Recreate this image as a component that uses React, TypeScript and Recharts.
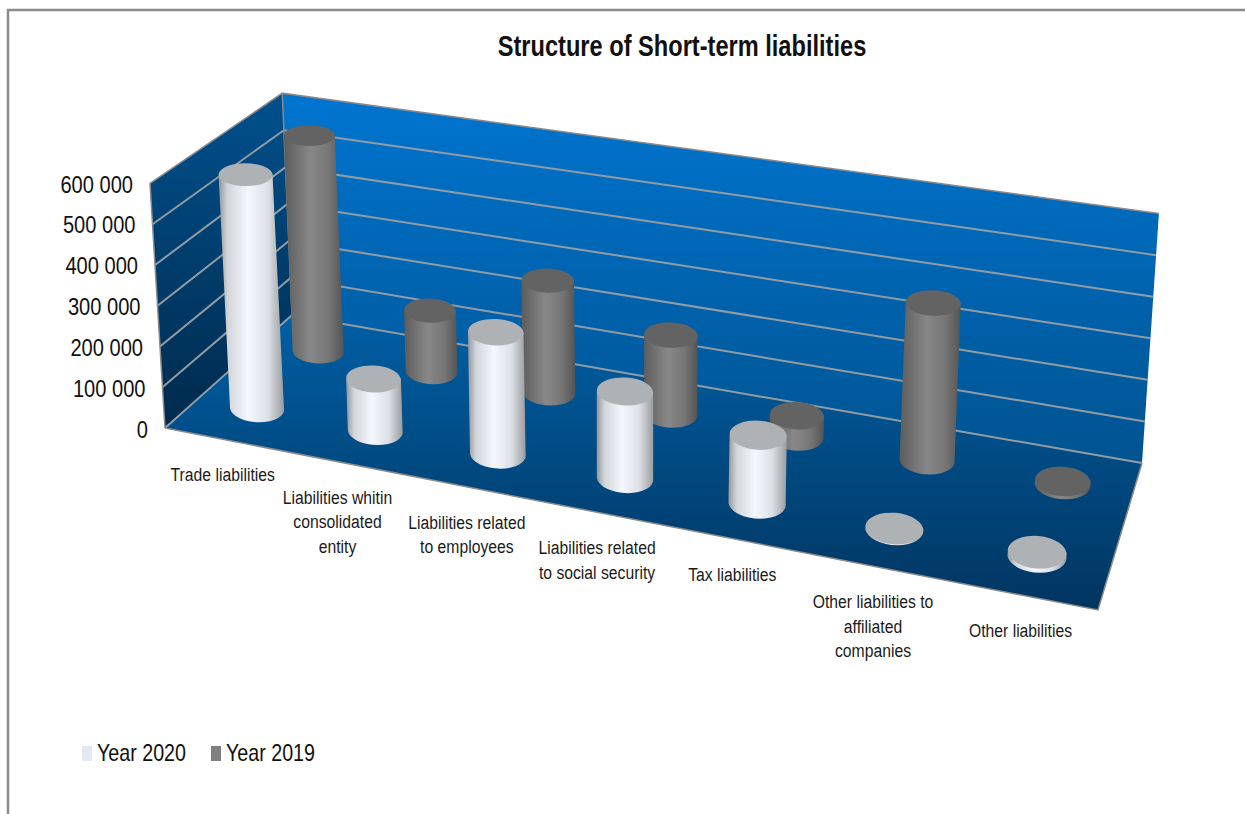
import React from 'react';
import { BarChart, Bar, XAxis, YAxis, Legend, Customized } from 'recharts';

const categories = [
  'Trade liabilities',
  'Liabilities whitin\nconsolidated\nentity',
  'Liabilities related\nto employees',
  'Liabilities related\nto social security',
  'Tax liabilities',
  'Other liabilities to\naffiliated\ncompanies',
  'Other liabilities',
];
const year2020 = [582000, 127000, 293000, 205000, 158000, 1500, 9000];
const year2019 = [563000, 156000, 282000, 196000, 51000, 377000, 7000];
const yTicks = [0, 100000, 200000, 300000, 400000, 500000, 600000];

const tableData = categories.map((name, i) => ({ name, y2020: year2020[i], y2019: year2019[i] }));

// box corners of the fake 3D scene, on screen
const A = [165, 428]; // front left floor
const B = [1098, 610]; // front right floor
const C = [1142, 463]; // back right floor
const D = [292, 315]; // back left floor
const VANISH = [630, 8018]; // where the upright edges meet
const PLOT_LEFT = 165;
const PLOT_W = 933;
const PLOT_H = 245;
const DEPTH_2020 = 0.25;
const DEPTH_2019 = 0.75;

// the reference text is squeezed sideways, no narrow font is installed
const FONT = "'Liberation Sans', Arial, sans-serif";
const SQUEEZE = 0.82;

const homography = (() => {
  const [x0, y0] = A, [x1, y1] = B, [x2, y2] = C, [x3, y3] = D;
  const dx1 = x1 - x2, dx2 = x3 - x2, sx = x0 - x1 + x2 - x3;
  const dy1 = y1 - y2, dy2 = y3 - y2, sy = y0 - y1 + y2 - y3;
  const den = dx1 * dy2 - dx2 * dy1;
  const g = (sx * dy2 - dx2 * sy) / den;
  const h = (dx1 * sy - sx * dy1) / den;
  return {
    a: x1 - x0 + g * x1, b: x3 - x0 + h * x3, c: x0,
    d: y1 - y0 + g * y1, e: y3 - y0 + h * y3, f: y0, g, h,
  };
})();

const floorPoint = (u: number, v: number) => {
  const m = homography;
  const q = m.g * u + m.h * v + 1;
  return [(m.a * u + m.b * v + m.c) / q, (m.d * u + m.e * v + m.f) / q];
};

// on-screen length of the full axis height at a floor position
const fullHeight = (u: number, v: number) =>
  (1 - u) * (1 - v) * 245 + (1 - u) * v * 222 + u * (1 - v) * 275 + u * v * 250;

const project = (u: number, v: number, w: number) => {
  const p = floorPoint(u, v);
  const dx = p[0] - VANISH[0], dy = p[1] - VANISH[1];
  const len = Math.hypot(dx, dy);
  const l = fullHeight(u, v) * w;
  return [p[0] + (dx / len) * l, p[1] + (dy / len) * l];
};

const pts = (list: number[][]) => list.map((p) => p.join(',')).join(' ');

const Scene = () => {
  const E = project(0, 0, 1), F = project(0, 1, 1), G = project(1, 1, 1);
  return (
    <g>
      <defs>
        <linearGradient id="backWall" gradientUnits="userSpaceOnUse" x1="0" y1="93" x2="0" y2="463">
          <stop offset="0%" stopColor="#0075d0" />
          <stop offset="100%" stopColor="#005390" />
        </linearGradient>
        <linearGradient id="sideWall" gradientUnits="userSpaceOnUse" x1="0" y1="100" x2="0" y2="428">
          <stop offset="0%" stopColor="#00508c" />
          <stop offset="100%" stopColor="#002a4c" />
        </linearGradient>
        <linearGradient id="floor" gradientUnits="userSpaceOnUse" x1="0" y1="315" x2="0" y2="610">
          <stop offset="0%" stopColor="#005fa4" />
          <stop offset="100%" stopColor="#003560" />
        </linearGradient>
        <linearGradient id="bodyLight" x1="0" y1="0" x2="1" y2="0">
          <stop offset="0%" stopColor="#93979b" />
          <stop offset="14%" stopColor="#d2d6da" />
          <stop offset="45%" stopColor="#f4f8fe" />
          <stop offset="75%" stopColor="#dde1e6" />
          <stop offset="100%" stopColor="#989c9f" />
        </linearGradient>
        <linearGradient id="bodyDark" x1="0" y1="0" x2="1" y2="0">
          <stop offset="0%" stopColor="#5c5c5c" />
          <stop offset="45%" stopColor="#888888" />
          <stop offset="75%" stopColor="#767676" />
          <stop offset="100%" stopColor="#545454" />
        </linearGradient>
      </defs>

      <polyline points="8,814 8,10 1245,10" fill="none" stroke="#8c8c8c" strokeWidth={2.5} />
      <text
        transform={`translate(682 56) scale(0.814 1)`}
        textAnchor="middle"
        fontFamily={FONT}
        fontWeight="bold"
        fontSize={29}
        fill="#111"
      >
        Structure of Short-term liabilities
      </text>

      <polygon points={pts([A, E, F, D])} fill="url(#sideWall)" />
      <polygon points={pts([D, F, G, C])} fill="url(#backWall)" />
      <polygon points={pts([A, B, C, D])} fill="url(#floor)" />

      {yTicks.slice(0, -1).map((t) => {
        const w = t / yTicks[yTicks.length - 1];
        return (
          <polyline
            key={t}
            points={pts([project(0, 0, w), project(0, 1, w), project(1, 1, w)])}
            fill="none"
            stroke="#929ca4"
            strokeWidth={2}
          />
        );
      })}

      <polyline points={pts([D, F, G])} fill="none" stroke="#8a8a8a" strokeWidth={1.5} />
      <polyline points={pts([A, E, F])} fill="none" stroke="#8a8a8a" strokeWidth={1.5} />
      <polyline points={pts([A, B, C])} fill="none" stroke="#8a8a8a" strokeWidth={1.5} />
    </g>
  );
};

const makeCylinder = (depth: number, body: string, cap: string) => (props: any) => {
  const { x, width, height } = props;
  const u = (x + width / 2 - PLOT_LEFT) / PLOT_W;
  const base = floorPoint(u, depth);
  const top = project(u, depth, height / PLOT_H);
  const rx = 27.5 + 2.9 * u - 3 * depth;
  const ratio = (py: number) => 0.41 + 0.00034 * (py - 137);
  const tilt = (py: number) => 5 * Math.max(0, py - 137) / 413;
  const ryTop = rx * ratio(top[1]);
  const ryBase = rx * ratio(base[1]);
  const d = [
    `M${top[0] - rx},${top[1]}`,
    `L${base[0] - rx},${base[1]}`,
    `A${rx},${ryBase} ${tilt(base[1])} 0 0 ${base[0] + rx},${base[1]}`,
    `L${top[0] + rx},${top[1]}`,
    'Z',
  ].join(' ');
  return (
    <g>
      <path d={d} fill={`url(#${body})`} />
      <ellipse
        cx={top[0]}
        cy={top[1]}
        rx={rx}
        ry={ryTop}
        fill={cap}
        transform={`rotate(${tilt(top[1])} ${top[0]} ${top[1]})`}
      />
    </g>
  );
};

const Cylinder2020 = makeCylinder(DEPTH_2020, 'bodyLight', '#aeb2b5');
const Cylinder2019 = makeCylinder(DEPTH_2019, 'bodyDark', '#636363');

// Excel placed the labels by hand, they sit a bit left of the band centre
const labelShift = [-1, -7, -3, -3, -3, -3, -2];

const CategoryTick = (props: any) => {
  const { x, payload, index } = props;
  const p = floorPoint((x - PLOT_LEFT) / PLOT_W, 0);
  const lines = String(payload.value).split('\n');
  const lx = p[0] + labelShift[index];
  const ly = 428 + ((lx - PLOT_LEFT) * 182) / PLOT_W + 42;
  return (
    <g transform={`translate(${lx} 0) scale(${SQUEEZE} 1)`}>
      <text textAnchor="middle" fontFamily={FONT} fontSize={19.2} fill="#1a1a1a">
        {lines.map((line, i) => (
          <tspan key={i} x={0} y={ly + i * 24.5}>
            {line}
          </tspan>
        ))}
      </text>
    </g>
  );
};

const ValueTick = (props: any) => {
  const { y, payload } = props;
  const w = payload.value / yTicks[yTicks.length - 1];
  const edge = project(0, 0, w);
  const label = payload.value === 0 ? '0' : `${payload.value / 1000} 000`;
  return (
    <text
      transform={`translate(${edge[0] - 17} ${y + 9.5}) scale(${SQUEEZE} 1)`}
      textAnchor="end"
      fontFamily={FONT}
      fontSize={24.5}
      fill="#111"
    >
      {label}
    </text>
  );
};

const LegendBox = ({ payload }: any) => (
  <div style={{ display: 'flex', fontFamily: FONT, fontSize: 24, color: '#111', lineHeight: '30px' }}>
    {[...(payload || [])].reverse().map((item: any) => (
      <div key={item.value} style={{ display: 'flex', alignItems: 'center', width: 129 }}>
        <span style={{ width: 10, height: 15, background: item.color, marginRight: 5, flex: 'none' }} />
        <span style={{ display: 'inline-block', whiteSpace: 'nowrap', transform: `scaleX(${SQUEEZE})`, transformOrigin: 'left' }}>
          {item.value}
        </span>
      </div>
    ))}
  </div>
);

export default function App() {
  return (
    <div style={{ position: 'absolute', left: 0, top: 0, width: 1245, height: 814, background: '#fff' }}>
      <BarChart
        width={1245}
        height={814}
        data={tableData}
        margin={{ top: 183, right: 147, bottom: 356, left: 65 }}
        barSize={20}
        barGap={-20}
      >
        <Customized component={Scene} />
        <XAxis dataKey="name" height={30} interval={0} axisLine={false} tickLine={false} tick={CategoryTick} />
        <YAxis
          width={100}
          domain={[0, 600000]}
          ticks={yTicks}
          axisLine={false}
          tickLine={false}
          tick={ValueTick}
        />
        <Legend
          verticalAlign="middle"
          content={LegendBox}
          wrapperStyle={{ position: 'absolute', left: 82, top: 738, width: 300, height: 30 }}
        />
        <Bar dataKey="y2019" name="Year 2019" fill="#808080" shape={Cylinder2019} isAnimationActive={false} />
        <Bar dataKey="y2020" name="Year 2020" fill="#e3e9f2" shape={Cylinder2020} isAnimationActive={false} />
      </BarChart>
    </div>
  );
}
